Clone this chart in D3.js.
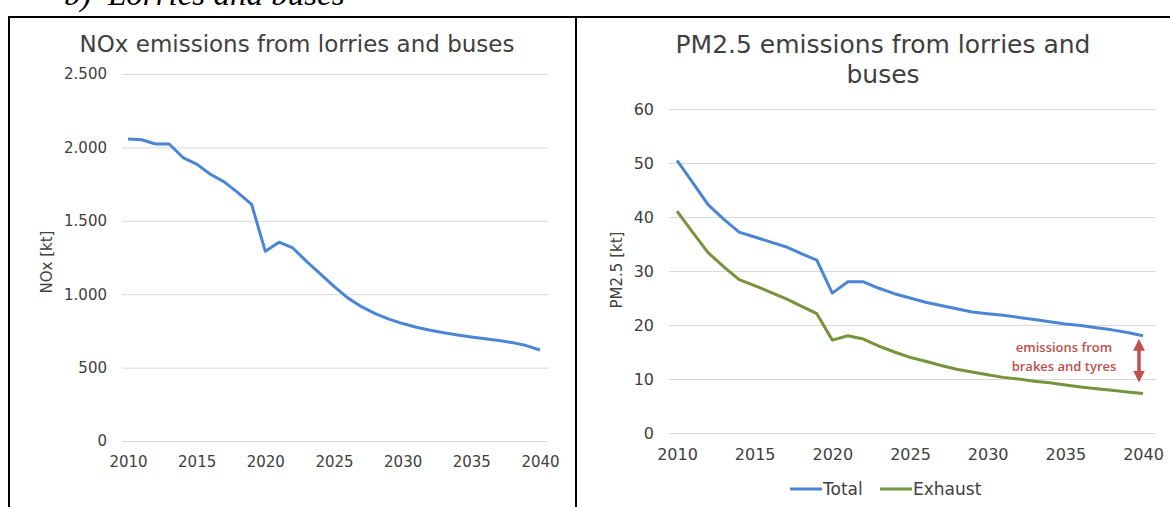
<!DOCTYPE html>
<html lang="en">
<head>
    <meta charset="UTF-8">
    <title>Lorries and buses</title>
    <script src="https://cdn.jsdelivr.net/npm/d3@7"></script>
    <style>
        body {
            margin: 0;
            background-color: #fff;
        }
        svg text {
            font-family: 'DejaVu Sans', Verdana, sans-serif;
            fill: #404040;
        }
        .tick line {
            stroke: #d9d9d9;
        }
    </style>
</head>
<body>
    <svg width="1170" height="507"></svg>

    <script>
        // years on both charts
        const years = d3.range(2010, 2041);

        // NOx, kt
        const noxValues = [2057, 2052, 2023, 2023, 1931, 1886, 1817, 1765, 1692, 1612,
            1292, 1354, 1315, 1224, 1139, 1053, 975, 915, 868, 830,
            800, 775, 755, 738, 722, 708, 696, 684, 670, 650, 620];

        // PM2.5, kt
        const pmTotal = [50.5, 46.4, 42.3, 39.6, 37.2, 36.3, 35.4, 34.5, 33.2, 32.0,
            25.9, 28.0, 28.0, 26.8, 25.8, 25.0, 24.2, 23.6, 23.0, 22.4,
            22.1, 21.8, 21.4, 21.0, 20.6, 20.2, 19.9, 19.5, 19.1, 18.6, 18.0];
        const pmExhaust = [41.1, 37.2, 33.4, 30.8, 28.4, 27.3, 26.1, 24.9, 23.5, 22.1,
            17.2, 18.0, 17.4, 16.1, 15.0, 14.0, 13.3, 12.5, 11.8, 11.3,
            10.8, 10.3, 10.0, 9.6, 9.3, 8.9, 8.5, 8.2, 7.9, 7.6, 7.3];

        const xTicks = [2010, 2015, 2020, 2025, 2030, 2035, 2040];
        const noxTicks = [0, 500, 1000, 1500, 2000, 2500];
        const pmTicks = [0, 10, 20, 30, 40, 50, 60];
        const legendNames = ["Total", "Exhaust"];

        const blue = "#4a86d4";
        const green = "#77933c";
        const red = "#c0504d";

        const svg = d3.select("svg");
        const dotLocale = d3.formatLocale({ decimal: ",", thousands: ".", grouping: [3], currency: ["", ""] });
        const fmt = dotLocale.format(",d");

        // document heading, cut off at the top like the page it came from
        svg.append("text")
            .attr("x", 64).attr("y", 5)
            .style("font-family", "'Liberation Serif', 'Times New Roman', serif")
            .style("font-style", "italic")
            .style("font-size", "33px")
            .style("fill", "#000")
            .text("b)\u00a0\u00a0Lorries and buses");

        // frame lines
        svg.append("path")
            .attr("d", "M9,507V17H1170M576,17V507")
            .attr("fill", "none")
            .attr("stroke", "#000")
            .attr("stroke-width", 2);

        function drawChart(opt) {
            const g = svg.append("g");
            const x = d3.scaleLinear().domain([2010, 2040]).range([opt.x0, opt.x1]);
            const y = d3.scaleLinear().domain(opt.yDomain).range([opt.yBottom, opt.yTop]);

            // y axis with gridlines
            g.append("g")
                .attr("transform", `translate(${opt.gridLeft},0)`)
                .call(d3.axisLeft(y).tickValues(opt.yTicks)
                    .tickSize(-(opt.gridRight - opt.gridLeft))
                    .tickPadding(15)
                    .tickFormat(opt.fmt))
                .call(a => a.select(".domain").remove())
                .call(a => a.selectAll("text").style("font-size", opt.tickSize + "px"));

            // x axis labels
            g.append("g")
                .attr("transform", `translate(0,${opt.yBottom})`)
                .call(d3.axisBottom(x).tickValues(xTicks).tickSize(0).tickPadding(opt.xPad).tickFormat(d3.format("d")))
                .call(a => a.select(".domain").remove())
                .call(a => a.selectAll("text").style("font-size", opt.tickSize + "px"));

            // title
            const title = g.append("text")
                .attr("text-anchor", "middle")
                .style("font-size", opt.titleSize + "px");
            opt.title.forEach((t, i) => {
                title.append("tspan").attr("x", opt.titleX).attr("y", opt.titleY + i * 30).text(t);
            });

            // y label
            g.append("text")
                .attr("transform", `translate(${opt.labelX},${opt.labelY}) rotate(-90)`)
                .attr("text-anchor", "middle")
                .style("font-size", "15px")
                .text(opt.yLabel);

            const line = d3.line().x((d, i) => x(years[i])).y(d => y(d));
            opt.series.forEach(s => {
                g.append("path")
                    .datum(s.values)
                    .attr("d", line)
                    .attr("fill", "none")
                    .attr("stroke", s.color)
                    .attr("stroke-width", 3)
                    .attr("stroke-linejoin", "round");
            });
            return { x, y };
        }

        drawChart({
            x0: 128, x1: 540, gridLeft: 122, gridRight: 548,
            yDomain: [0, 2500], yBottom: 441, yTop: 74, yTicks: noxTicks, fmt: fmt,
            tickSize: 15, xPad: 15, titleSize: 23,
            title: ["NOx emissions from lorries and buses"], titleX: 297, titleY: 52,
            yLabel: "NOx [kt]", labelX: 52, labelY: 262,
            series: [{ values: noxValues, color: blue }]
        });

        const right = drawChart({
            x0: 677, x1: 1143, gridLeft: 669, gridRight: 1156,
            yDomain: [0, 60], yBottom: 433, yTop: 109, yTicks: pmTicks, fmt: d3.format("d"),
            tickSize: 16, xPad: 16, titleSize: 25,
            title: ["PM2.5 emissions from lorries and", "buses"], titleX: 883, titleY: 53,
            yLabel: "PM2.5 [kt]", labelX: 622, labelY: 270,
            series: [{ values: pmExhaust, color: green }, { values: pmTotal, color: blue }]
        });

        // annotation: gap between total and exhaust
        const ax = right.x(2040) - 4;
        const ay0 = right.y(pmTotal[pmTotal.length - 1]) + 4;
        const ay1 = right.y(pmExhaust[pmExhaust.length - 1]) - 12;
        const defs = svg.append("defs");
        defs.append("marker")
            .attr("id", "head")
            .attr("viewBox", "0 0 10 10")
            .attr("refX", 5).attr("refY", 5)
            .attr("markerWidth", 3.4).attr("markerHeight", 3.4)
            .attr("orient", "auto-start-reverse")
            .append("path").attr("d", "M0,0L10,5L0,10Z").attr("fill", red);
        svg.append("line")
            .attr("x1", ax).attr("x2", ax)
            .attr("y1", ay0 + 5).attr("y2", ay1 - 5)
            .attr("stroke", red).attr("stroke-width", 3.5)
            .attr("marker-start", "url(#head)")
            .attr("marker-end", "url(#head)");

        const note = svg.append("text")
            .attr("text-anchor", "middle")
            .style("font-family", "'Open Sans', sans-serif")
            .style("font-weight", "600")
            .style("font-size", "13px")
            .style("fill", red);
        ["emissions from", "brakes and tyres"].forEach((t, i) => {
            note.append("tspan").attr("x", 1064).attr("y", 352 + i * 19).text(t);
        });

        // legend
        const legend = svg.append("g").attr("transform", "translate(790,489)");
        [blue, green].forEach((c, i) => {
            const item = legend.append("g").attr("transform", `translate(${i * 90},0)`);
            item.append("line").attr("x1", 0).attr("x2", 32).attr("stroke", c).attr("stroke-width", 3);
            item.append("text").attr("x", 33).attr("dy", "0.35em")
                .style("font-size", "17px").text(legendNames[i]);
        });
    </script>
</body>
</html>
